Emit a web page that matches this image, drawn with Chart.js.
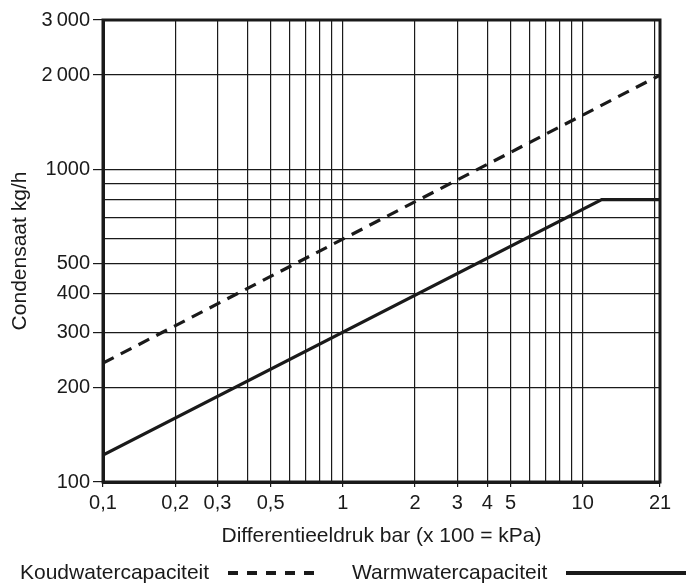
<!DOCTYPE html>
<html>
<head>
<meta charset="utf-8">
<script src="https://cdn.jsdelivr.net/npm/chart.js@4.4.1/dist/chart.umd.min.js"></script>
<style>
  html, body { margin: 0; padding: 0; background: #fff; }
  #wrap { width: 686px; height: 583px; position: relative; }
</style>
</head>
<body>
<div id="wrap"><canvas id="c" width="686" height="583"></canvas></div>
<script>
// values (log-log chart)
const coldX = [0.1, 21];
const coldY = [240, 2000];
const warmX = [0.1, 12, 21];
const warmY = [122, 800, 800];

const xGrid = [0.1, 0.2, 0.3, 0.4, 0.5, 0.6, 0.7, 0.8, 0.9, 1, 2, 3, 4, 5, 6, 7, 8, 9, 10, 20, 21];
const xLabels = [0.1, 0.2, 0.3, 0.5, 1, 2, 3, 4, 5, 10, 21];
const yGrid = [100, 200, 300, 400, 500, 600, 700, 800, 900, 1000, 2000, 3000];
const yLabels = [100, 200, 300, 400, 500, 1000, 2000, 3000];

const seriesNames = ['Koudwatercapaciteit', 'Warmwatercapaciteit'];
const ink = '#1a1a1a';
const FONT = 'Liberation Sans, Arial, Helvetica, sans-serif';

function toPoints(xs, ys) {
    return xs.map((x, i) => ({ x: x, y: ys[i] }));
}

function fmtX(v) {
    return String(v).replace('.', ',');
}
function fmtY(v) {
    // thousands written with a thin gap like the print
    return v >= 2000 ? String(v).replace(/(\d)(\d{3})$/, '$1\u2009$2') : String(v);
}

// thick frame round the plot + legend line under the chart
const framePlugin = {
    id: 'frame',
    afterDraw(chart) {
        const { ctx, chartArea: a } = chart;
        ctx.save();
        ctx.strokeStyle = ink;
        ctx.lineWidth = 3;
        ctx.strokeRect(a.left, a.top, a.right - a.left, a.bottom - a.top);

        // legend
        ctx.font = '21px ' + FONT;
        ctx.fillStyle = ink;
        ctx.textBaseline = 'middle';
        const ly = 573;
        ctx.fillText(seriesNames[0], 20, ly);
        ctx.fillText(seriesNames[1], 352, ly);
        ctx.lineWidth = 4;
        ctx.setLineDash([10, 9]);
        ctx.beginPath();
        ctx.moveTo(228, ly);
        ctx.lineTo(322, ly);
        ctx.stroke();
        ctx.setLineDash([]);
        ctx.beginPath();
        ctx.moveTo(566, ly);
        ctx.lineTo(686, ly);
        ctx.stroke();
        ctx.restore();
    }
};

const chartConfig = {
    type: 'scatter',
    data: {
        datasets: [{
            label: seriesNames[0],
            data: toPoints(coldX, coldY),
            showLine: true,
            borderColor: ink,
            borderWidth: 3.2,
            borderDash: [12, 8],
            pointRadius: 0,
            fill: false
        }, {
            label: seriesNames[1],
            data: toPoints(warmX, warmY),
            showLine: true,
            borderColor: ink,
            borderWidth: 3.2,
            pointRadius: 0,
            fill: false
        }]
    },
    options: {
        responsive: false,
        animation: false,
        layout: {
            padding: { left: 8, right: 26, top: 20, bottom: 34 }
        },
        scales: {
            x: {
                type: 'logarithmic',
                min: 0.1,
                max: 21,
                afterBuildTicks: (s) => { s.ticks = xGrid.map(v => ({ value: v })); },
                afterFit: (s) => { s.height = 67; },
                ticks: {
                    autoSkip: false,
                    maxRotation: 0,
                    padding: 4,
                    color: ink,
                    font: { family: FONT, size: 20 },
                    callback: (v) => xLabels.includes(v) ? fmtX(v) : ''
                },
                grid: {
                    color: ink,
                    lineWidth: 1.2,
                    tickLength: 5,
                    tickColor: (c) => c.tick && xLabels.includes(c.tick.value) ? ink : 'rgba(0,0,0,0)'
                },
                border: { display: true, color: ink, width: 3 },
                title: {
                    display: true,
                    text: 'Differentieeldruk bar (x 100 = kPa)',
                    color: ink,
                    font: { family: FONT, size: 21 },
                    padding: { top: 6, bottom: 0 }
                }
            },
            y: {
                type: 'logarithmic',
                min: 100,
                max: 3000,
                afterBuildTicks: (s) => { s.ticks = yGrid.map(v => ({ value: v })); },
                afterFit: (s) => { s.width = 95; },
                ticks: {
                    autoSkip: false,
                    padding: 3,
                    color: ink,
                    font: { family: FONT, size: 20 },
                    callback: (v) => yLabels.includes(v) ? fmtY(v) : ''
                },
                grid: {
                    color: ink,
                    lineWidth: 1.2,
                    tickLength: 10,
                    tickColor: (c) => c.tick && yLabels.includes(c.tick.value) ? ink : 'rgba(0,0,0,0)'
                },
                border: { display: true, color: ink, width: 3 },
                title: {
                    display: true,
                    text: 'Condensaat kg/h',
                    color: ink,
                    font: { family: FONT, size: 21 },
                    padding: { top: 0, bottom: 0 }
                }
            }
        },
        plugins: {
            legend: { display: false },
            tooltip: { enabled: false }
        }
    },
    plugins: [framePlugin]
};

new Chart(document.getElementById('c').getContext('2d'), chartConfig);
</script>
</body>
</html>
